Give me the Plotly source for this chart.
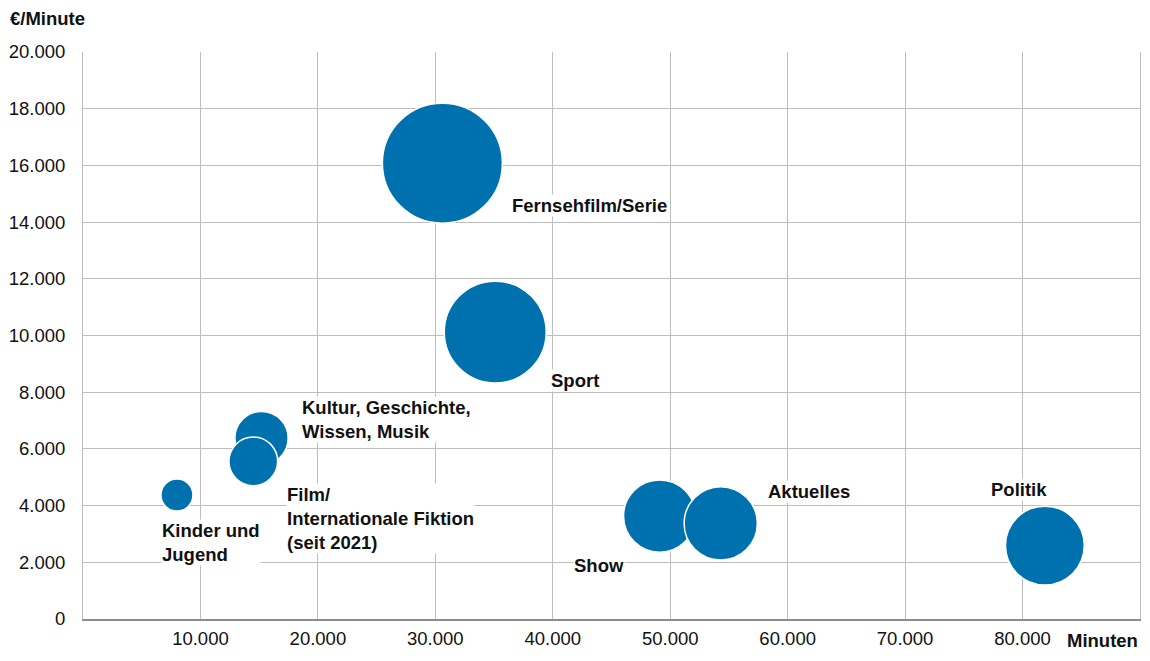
import plotly.graph_objects as go

# Sendeminuten, Kosten pro Minute und Gesamtkosten (Blasengröße, Mio. €) je Genre
genres = [
    "Fernsehfilm/Serie",
    "Sport",
    "Kultur, Geschichte,<br>Wissen, Musik",
    "Film/<br>Internationale Fiktion<br>(seit 2021)",
    "Kinder und<br>Jugend",
    "Show",
    "Aktuelles",
    "Politik",
]
minuten = [30600, 35100, 15200, 14500, 8000, 49100, 54300, 81900]
euro_pro_minute = [16080, 10120, 6380, 5560, 4370, 3630, 3370, 2590]
kosten_mio = [492, 355, 97, 81, 35, 178, 183, 212]

x_ticks = [10000, 20000, 30000, 40000, 50000, 60000, 70000, 80000]
y_ticks = [0, 2000, 4000, 6000, 8000, 10000, 12000, 14000, 16000, 18000, 20000]

# label placement relative to the bubble centre (pixels)
label_pos = [
    ("left", 69, -42),
    ("left", 55, -48),
    ("left", 39, 19),
    ("left", 33, -57),
    ("left", -16, -47),
    ("right", -35, -49),
    ("left", 46, 32),
    ("left", -55, 56),
]

blue = "#0071AF"
grid = "#BDBDBD"
text_col = "#111111"
font_family = "Liberation Sans, Arial, sans-serif"
fsize = 18.5

max_diameter = 120
sizeref = 2.0 * max(kosten_mio) / (max_diameter ** 2)

fig = go.Figure(go.Scatter(
    x=minuten,
    y=euro_pro_minute,
    mode="markers",
    marker=dict(
        size=kosten_mio,
        sizemode="area",
        sizeref=sizeref,
        color=blue,
        opacity=1,
        line=dict(color="white", width=1.5),
    ),
    hovertext=[g.replace("<br>", " ") for g in genres],
    hoverinfo="text+x+y",
    showlegend=False,
))

for g, xv, yv, (anchor, dx, dy) in zip(genres, minuten, euro_pro_minute, label_pos):
    fig.add_annotation(
        x=xv, y=yv, xref="x", yref="y",
        text=f"<b>{g}</b>",
        showarrow=False,
        xanchor=anchor, yanchor="middle",
        xshift=dx, yshift=dy,
        align="left",
        bgcolor="white",
        borderpad=0,
        font=dict(size=fsize, color=text_col, family=font_family),
    )

# axis titles
fig.add_annotation(
    x=0, y=1, xref="paper", yref="paper",
    text="<b>€/Minute</b>", showarrow=False,
    xanchor="left", yanchor="middle", xshift=-75, yshift=34,
    font=dict(size=fsize, color=text_col, family=font_family),
)
fig.add_annotation(
    x=1, y=0, xref="paper", yref="paper",
    text="<b>Minuten</b>", showarrow=False,
    xanchor="right", yanchor="bottom", xshift=0, yshift=-34,
    font=dict(size=fsize, color=text_col, family=font_family),
)

fig.update_xaxes(
    range=[0, 90000],
    tickvals=x_ticks,
    tickformat=",d",
    showgrid=True, gridcolor=grid, gridwidth=1,
    zeroline=False,
    showline=True, linecolor="#8C8C8C", linewidth=2,
    ticks="", ticklabelstandoff=2,
    automargin=False,
    tickfont=dict(size=fsize, color=text_col, family=font_family),
)
fig.update_yaxes(
    range=[0, 20000],
    tickvals=y_ticks,
    tickformat=",d",
    showgrid=True, gridcolor=grid, gridwidth=1,
    zeroline=False,
    showline=True, mirror=True, linecolor=grid, linewidth=1,
    ticks="", ticklabelstandoff=13,
    automargin=False,
    tickfont=dict(size=fsize, color=text_col, family=font_family),
)

# page has an 8px body margin, so the figure is kept inside the window
fig.update_layout(
    width=1134, height=645,
    margin=dict(l=75, r=2, t=44, b=34),
    separators=",.",
    plot_bgcolor="white",
    paper_bgcolor="white",
    font=dict(family=font_family, color=text_col),
    template="plotly_white",
)

fig.write_html("out.html")
